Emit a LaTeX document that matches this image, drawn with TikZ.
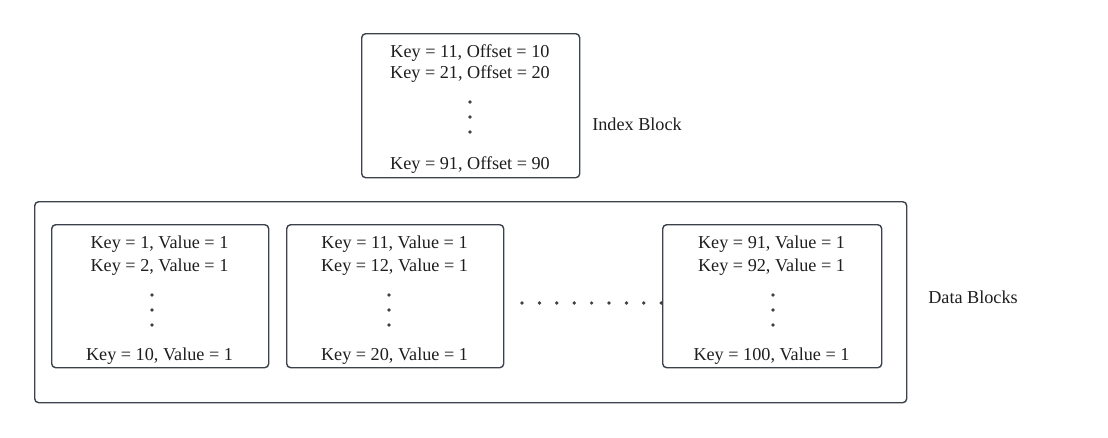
\documentclass[tikz,border=0pt]{standalone}
\usepackage{fontspec}
\setmainfont{Liberation Serif}
\definecolor{edge}{HTML}{3B424C}
\definecolor{ink}{HTML}{1E1E1E}
\tikzset{
  blk/.style={draw=edge, line width=1.4pt, rounded corners=4pt, inner sep=0pt, anchor=north west},
  txt/.style={text=ink, font=\fontsize{18.2}{20}\selectfont, anchor=base, inner sep=0pt},
  vdot/.style={circle, fill=ink!85, inner sep=0pt, minimum size=3.7pt},
}
\begin{document}
\begin{tikzpicture}[x=1pt,y=-1pt]
\useasboundingbox (0,0) rectangle (1108,437);
% index block
\node[blk, minimum width=218pt, minimum height=144pt] (idx) at (361,33) {};
\node[txt] (i1) at (470,57.5) {Key = 11, Offset = 10};
\node[txt] (i2) at (470,78.5) {Key = 21, Offset = 20};
\node[vdot] (id1) at (470,102) {};
\node[vdot] (id2) at (470,117) {};
\node[vdot] (id3) at (470,132) {};
\node[txt] (i3) at (470,169) {Key = 91, Offset = 90};
\node[txt] (ilab) at (637,130) {Index Block};
% outer data box
\node[blk, minimum width=872pt, minimum height=201pt] (outer) at (34,201) {};
\node[txt] (dlab) at (973,303) {Data Blocks};
% data block 1
\node[blk, minimum width=217pt, minimum height=143pt] (b1) at (51,224) {};
\node[txt] (b1a) at (159.5,248.5) {Key = 1, Value = 1};
\node[txt] (b1b) at (159.5,271) {Key = 2, Value = 1};
\node[vdot] (b1d1) at (152,295) {};
\node[vdot] (b1d2) at (152,310) {};
\node[vdot] (b1d3) at (152,325) {};
\node[txt] (b1c) at (159.5,360.5) {Key = 10, Value = 1};
% data block 2
\node[blk, minimum width=217pt, minimum height=143pt] (b2) at (286,224) {};
\node[txt] (b2a) at (394.5,248.5) {Key = 11, Value = 1};
\node[txt] (b2b) at (394.5,271) {Key = 12, Value = 1};
\node[vdot] (b2d1) at (389,295) {};
\node[vdot] (b2d2) at (389,310) {};
\node[vdot] (b2d3) at (389,325) {};
\node[txt] (b2c) at (394.5,360.5) {Key = 20, Value = 1};
% data block 3
\node[blk, minimum width=219pt, minimum height=143pt] (b3) at (662,224) {};
\node[txt] (b3a) at (771.5,248.5) {Key = 91, Value = 1};
\node[txt] (b3b) at (771.5,271) {Key = 92, Value = 1};
\node[vdot] (b3d1) at (773,295) {};
\node[vdot] (b3d2) at (773,310) {};
\node[vdot] (b3d3) at (773,325) {};
\node[txt] (b3c) at (771.5,360.5) {Key = 100, Value = 1};
% horizontal dots
\foreach \i in {0,...,8} {
  \node[vdot] (h\i) at ({522+\i*17.4},303) {};
}
\end{tikzpicture}
\end{document}
